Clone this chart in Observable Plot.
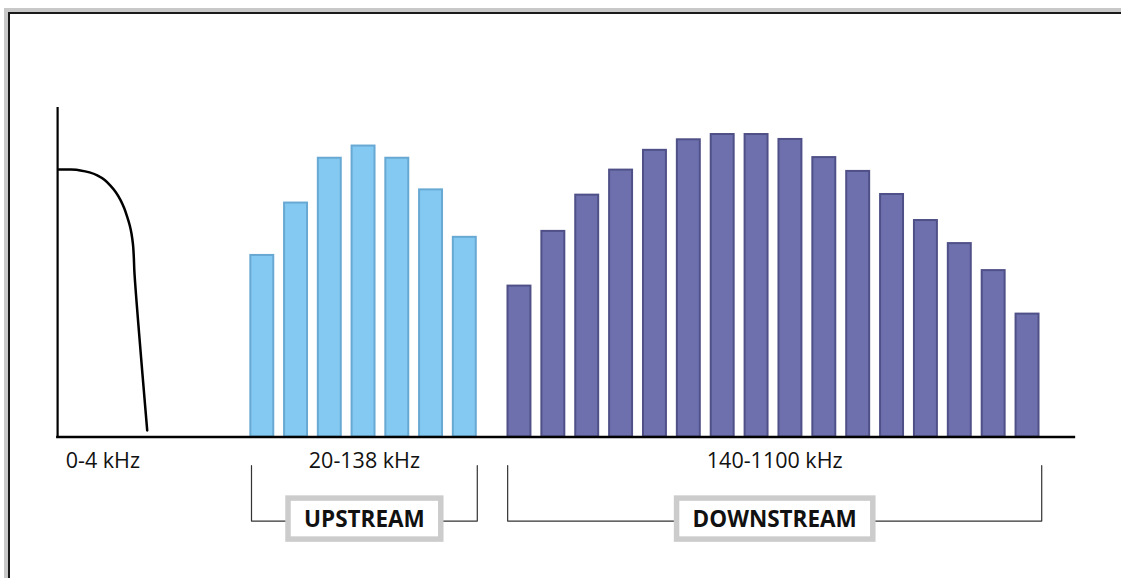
<!DOCTYPE html>
<html><head><meta charset="utf-8">
<script src="https://cdn.jsdelivr.net/npm/d3@7"></script>
<script src="https://cdn.jsdelivr.net/npm/@observablehq/plot@0.6"></script>
<style>
html,body{margin:0;padding:0;background:#fff;width:1121px;height:578px;overflow:hidden}
#frame{position:absolute;left:4px;top:8px;width:1300px;height:800px;border-left:4px solid #c8c8c8;border-top:4px solid #c8c8c8;box-sizing:border-box}
#frame2{position:absolute;left:0;top:0;width:1300px;height:800px;border-left:2px solid #1a1a1a;border-top:2px solid #1a1a1a;box-sizing:border-box}
#chart{position:absolute;left:0;top:0}
</style></head><body>
<div id="frame"><div id="frame2"></div></div>
<div id="chart"></div>
<script>
// ---- data ----
// relative power of each upstream / downstream sub-channel (0-100 scale)
const upstreamPower = [55.1, 71.0, 84.6, 88.3, 84.6, 75.0, 60.6];
const downstreamPower = [45.8, 62.4, 73.4, 81.0, 87.0, 90.2, 91.8, 91.8, 90.3, 84.8, 80.6, 73.6, 65.7, 58.7, 50.5, 37.3];
// voice band (POTS) spectrum curve, in channel-slot units / power
const voiceX = [-5.66, -5.30, -5.02, -4.75, -4.52, -4.30, -4.13, -3.97, -3.83, -3.72, -3.63, -3.555, -3.505, -3.46, -3.437, -3.416, -3.04];
const voiceY = [81.2, 81.15, 80.9, 80.3, 79.4, 78.0, 76.3, 74.3, 71.9, 69.4, 66.7, 64.1, 61.7, 58.3, 54.6, 49.5, 2.0];
const bandLabels = ["0-4 kHz", "20-138 kHz", "140-1100 kHz"];
const streamLabels = ["UPSTREAM", "DOWNSTREAM"];

// ---- layout (slot units) ----
const UP_START = 0, DOWN_START = 7.62, BAR_W = 0.74, INSET = 0.03;
const AXIS_X = -5.695, AXIS_END = 24.47, AXIS_TOP = 100;
const LABEL_Y = -7.44, BRACKET_TOP = -8.65, BRACKET_Y = -25.5, STREAM_Y = -25.0;

const up = upstreamPower.map((v, i) => ({start: UP_START + i, value: v}));
const down = downstreamPower.map((v, i) => ({start: DOWN_START + i * 1.0036, value: v}));
const voice = voiceX.map((x, i) => ({x, y: voiceY[i]}));
const groups = [
  {x1: UP_START + 0.05, x2: up[up.length-1].start + BAR_W},
  {x1: DOWN_START + 0.02, x2: down[down.length-1].start + BAR_W + 0.05}
];
const voiceText = [{x: AXIS_X + 0.24, text: bandLabels[0]}];
const bandText = [
  {x: (groups[0].x1 + groups[0].x2) / 2, text: bandLabels[1]},
  {x: (groups[1].x1 + groups[1].x2) / 2, text: bandLabels[2]}
];
const streamText = groups.map((g, i) => ({x: (g.x1 + g.x2) / 2, text: streamLabels[i]}));
const bracketPaths = groups.flatMap((g, i) => [
  {x: g.x1, y: BRACKET_TOP, k: i}, {x: g.x1, y: BRACKET_Y, k: i},
  {x: g.x2, y: BRACKET_Y, k: i}, {x: g.x2, y: BRACKET_TOP, k: i}
]);

const W = 1121, H = 578;
const chart = Plot.plot({
  width: W, height: H,
  marginTop: 0, marginBottom: 0, marginLeft: 0, marginRight: 0,
  style: {background: "transparent", fontFamily: "Open Sans, sans-serif"},
  x: {domain: [-7.387, 25.828], range: [0, W], axis: null},
  y: {domain: [-42.94, 132.47], range: [H, 0], axis: null},
  marks: [
    Plot.rect(up, {x1: d => d.start + INSET, x2: d => d.start + BAR_W - INSET, y1: 0, y2: "value",
      fill: "#84c9f1", stroke: "#68a9d3", strokeWidth: 2}),
    Plot.rect(down, {x1: d => d.start + INSET, x2: d => d.start + BAR_W - INSET, y1: 0, y2: "value",
      fill: "#6e70ae", stroke: "#4f5087", strokeWidth: 2}),
    Plot.line(voice, {x: "x", y: "y", curve: "catmull-rom", stroke: "#000", strokeWidth: 2.5}),
    Plot.ruleX([AXIS_X], {y1: 0, y2: AXIS_TOP, stroke: "#000", strokeWidth: 2.2}),
    Plot.ruleY([0], {x1: AXIS_X - 0.03, x2: AXIS_END, stroke: "#000", strokeWidth: 2.6}),
    Plot.line(bracketPaths, {x: "x", y: "y", z: "k", stroke: "#333", strokeWidth: 1.2}),
    Plot.text(voiceText, {x: "x", y: LABEL_Y, text: "text", textAnchor: "start", fontSize: 21.5, fill: "#111"}),
    Plot.text(bandText, {x: "x", y: LABEL_Y, text: "text", textAnchor: "middle", fontSize: 21.5, fill: "#111"}),
    Plot.text(streamText, {x: "x", y: STREAM_Y, text: "text", fontSize: 22.5, fontWeight: "bold", fill: "#111", className: "boxed"})
  ]
});
document.getElementById("chart").append(chart);

// white boxes with grey border behind the stream labels
d3.select(chart).selectAll("g.boxed text").each(function() {
  const b = this.getBBox();
  const padX = 16, h = 41;
  const cy = b.y + b.height / 2 + 0.5;
  const rect = document.createElementNS("http://www.w3.org/2000/svg", "rect");
  rect.setAttribute("x", b.x - padX);
  rect.setAttribute("y", cy - h / 2);
  rect.setAttribute("width", b.width + 2 * padX);
  rect.setAttribute("height", h);
  rect.setAttribute("fill", "#fff");
  rect.setAttribute("stroke", "#cccccc");
  rect.setAttribute("stroke-width", 5.5);
  if (this.getAttribute("transform")) rect.setAttribute("transform", this.getAttribute("transform"));
  this.parentNode.insertBefore(rect, this);
});
</script>
</body></html>
